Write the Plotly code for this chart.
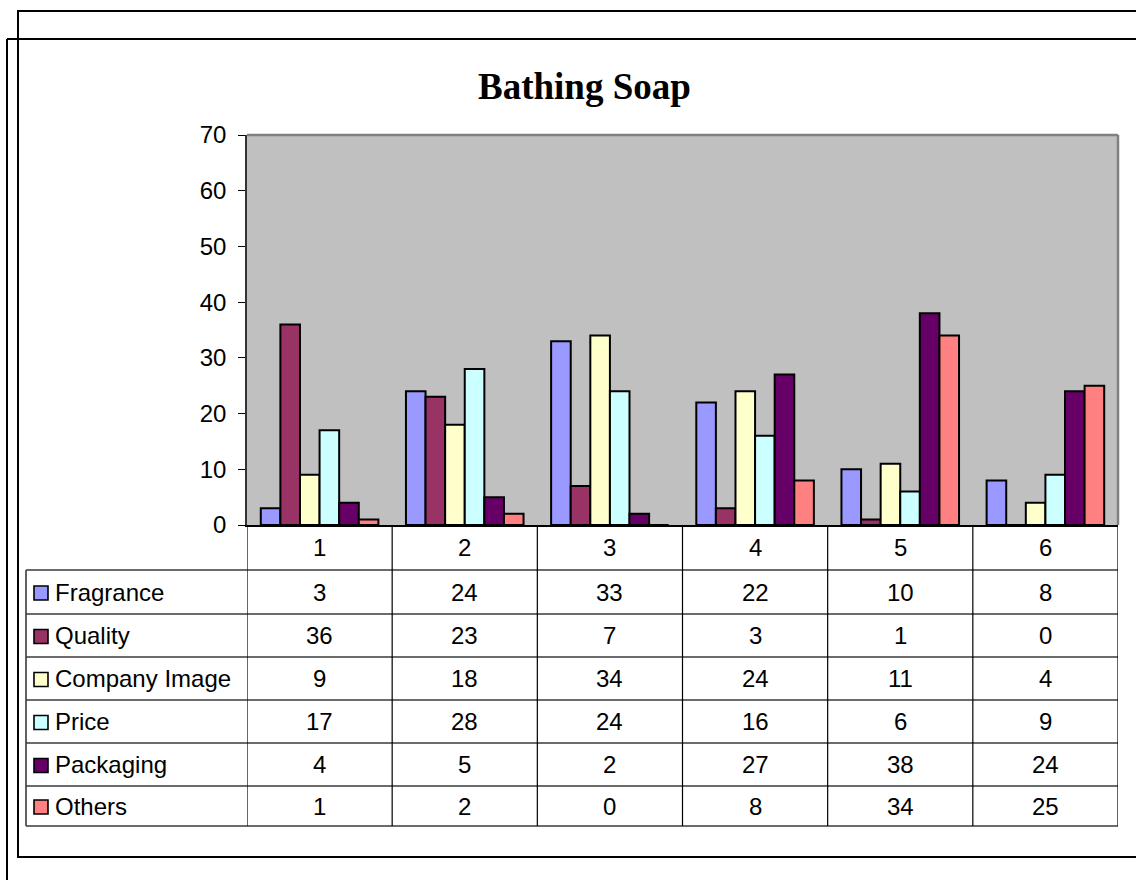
import plotly.graph_objects as go

# Survey groups shown along the category axis
categories = ["1", "2", "3", "4", "5", "6"]

# Responses per factor for each group
fragrance = [3, 24, 33, 22, 10, 8]
quality = [36, 23, 7, 3, 1, 0]
company_image = [9, 18, 34, 24, 11, 4]
price = [17, 28, 24, 16, 6, 9]
packaging = [4, 5, 2, 27, 38, 24]
others = [1, 2, 0, 8, 34, 25]

series_names = ["Fragrance", "Quality", "Company Image", "Price", "Packaging", "Others"]
series_values = [fragrance, quality, company_image, price, packaging, others]
series_colors = ["#9999FF", "#993366", "#FFFFCC", "#CCFFFF", "#660066", "#FF8080"]

y_ticks = [0, 10, 20, 30, 40, 50, 60, 70]

W, H = 1136, 880
FONT = "Liberation Sans, Arial, sans-serif"
FS = 24


def px(x):
    return x / W


def py(y):
    return 1 - y / H


# Plot-area geometry (pixels)
PL, PR, PT, PB = 247, 1118, 135, 525
# Data-table geometry (pixels)
TABLE_LEFT = 26
ROW_LINES = [570, 614, 657, 700, 743, 786, 826]

fig = go.Figure()
for name, vals, col in zip(series_names, series_values, series_colors):
    fig.add_trace(go.Bar(
        x=categories, y=vals, name=name,
        marker=dict(color=col, line=dict(color="black", width=2)),
        showlegend=False,
    ))

shapes = []
annotations = []

# Outer frames
shapes.append(dict(type="rect", xref="paper", yref="paper",
                   x0=px(18), x1=px(1150), y0=py(857), y1=py(11),
                   line=dict(color="black", width=2), fillcolor="rgba(0,0,0,0)"))
shapes.append(dict(type="line", xref="paper", yref="paper",
                   x0=px(7), x1=px(1150), y0=py(39), y1=py(39),
                   line=dict(color="black", width=2)))
shapes.append(dict(type="line", xref="paper", yref="paper",
                   x0=px(7), x1=px(7), y0=py(39), y1=py(900),
                   line=dict(color="black", width=2)))

# Plot-area border
shapes.append(dict(type="line", xref="paper", yref="paper",
                   x0=px(PL), x1=px(PR), y0=py(PT), y1=py(PT),
                   line=dict(color="#808080", width=2.5)))
shapes.append(dict(type="line", xref="paper", yref="paper",
                   x0=px(PR), x1=px(PR), y0=py(PT), y1=py(PB),
                   line=dict(color="#808080", width=2.5)))

# Data table: horizontal rules
for yl in ROW_LINES:
    shapes.append(dict(type="line", xref="paper", yref="paper",
                       x0=px(TABLE_LEFT), x1=px(PR), y0=py(yl), y1=py(yl),
                       line=dict(color="#3a3a3a", width=1.6)))
# Data table: vertical rules
shapes.append(dict(type="line", xref="paper", yref="paper",
                   x0=px(TABLE_LEFT), x1=px(TABLE_LEFT), y0=py(ROW_LINES[0]), y1=py(ROW_LINES[-1]),
                   line=dict(color="#3a3a3a", width=1.6)))
for k in range(len(categories) + 1):
    shapes.append(dict(type="line", xref="x", yref="paper",
                       x0=k - 0.5, x1=k - 0.5, y0=py(PB), y1=py(ROW_LINES[-1]),
                       line=dict(color="black", width=1.2)))

# Category labels in the header row
for k, c in enumerate(categories):
    annotations.append(dict(x=k, xref="x", y=py((PB + ROW_LINES[0]) / 2), yref="paper",
                            text=c, showarrow=False, xanchor="center", yanchor="middle",
                            font=dict(family=FONT, size=FS, color="black")))

# Series rows: swatch, name and values
for r, (name, vals, col) in enumerate(zip(series_names, series_values, series_colors)):
    yc = (ROW_LINES[r] + ROW_LINES[r + 1]) / 2
    shapes.append(dict(type="rect", xref="paper", yref="paper",
                       x0=px(34), x1=px(48), y0=py(yc + 8), y1=py(yc - 6),
                       fillcolor=col, line=dict(color="black", width=1.6)))
    annotations.append(dict(x=px(53), xref="paper", y=py(yc), yref="paper",
                            text=name, showarrow=False, xanchor="left", yanchor="middle",
                            font=dict(family=FONT, size=FS, color="black")))
    for k, v in enumerate(vals):
        annotations.append(dict(x=k, xref="x", y=py(yc), yref="paper",
                                text=str(v), showarrow=False, xanchor="center", yanchor="middle",
                                font=dict(family=FONT, size=FS, color="black")))

# Chart title
annotations.append(dict(x=px(584), xref="paper", y=py(86), yref="paper",
                        text="<b>Bathing Soap</b>", showarrow=False,
                        xanchor="center", yanchor="middle",
                        font=dict(family="Liberation Serif, Times New Roman, serif",
                                  size=37, color="black")))

fig.update_layout(
    width=W, height=H,
    margin=dict(l=0, r=0, t=0, b=0, autoexpand=False),
    paper_bgcolor="white",
    plot_bgcolor="#C0C0C0",
    barmode="group",
    bargap=0.19,
    bargroupgap=0,
    showlegend=False,
    shapes=shapes,
    annotations=annotations,
    xaxis=dict(domain=[px(PL), px(PR)], type="category", range=[-0.5, 5.5],
               showticklabels=False, ticks="", showgrid=False, zeroline=False,
               automargin=False,
               showline=True, linecolor="black", linewidth=1.5, fixedrange=True),
    yaxis=dict(domain=[py(PB), py(PT)], range=[0, 70], tickvals=y_ticks,
               ticks="outside", ticklen=7, tickcolor="black", tickwidth=1,
               ticklabelstandoff=7, automargin=False,
               tickfont=dict(family=FONT, size=FS, color="black"),
               showgrid=False, zeroline=False,
               showline=True, linecolor="#333333", linewidth=1.5, fixedrange=True),
)

fig.write_html("out.html")
